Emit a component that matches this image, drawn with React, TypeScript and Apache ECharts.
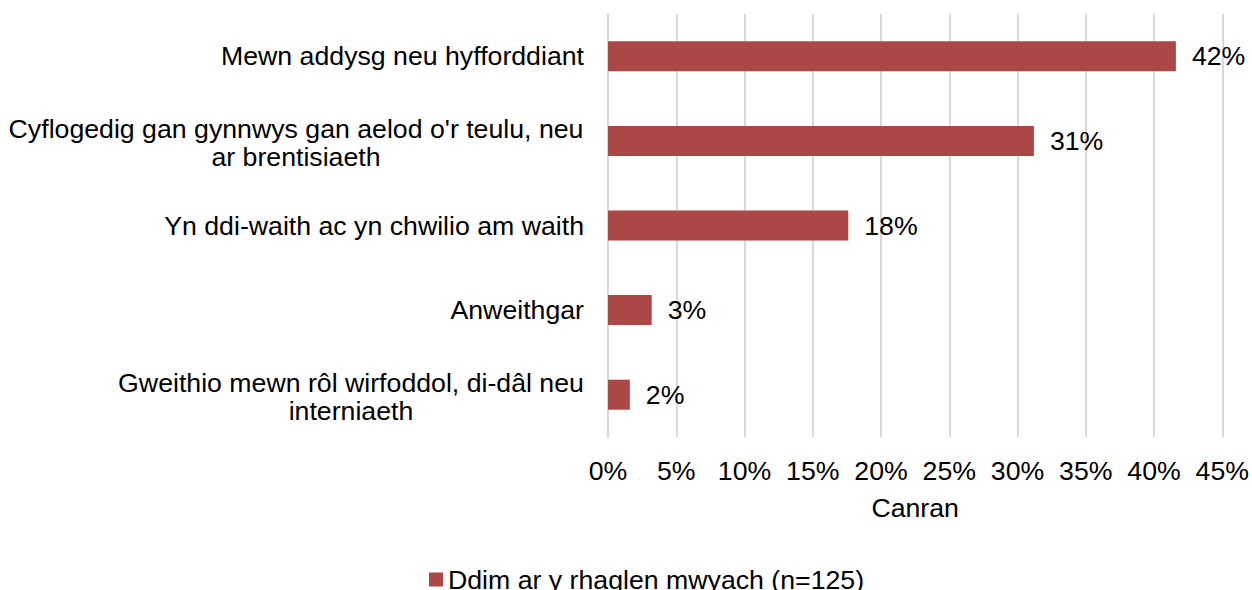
import React, { useEffect, useRef } from "react";
import * as echarts from "echarts";

const categories = [
  "Mewn addysg neu hyfforddiant",
  "Cyflogedig gan gynnwys gan aelod o'r teulu, neu\nar brentisiaeth",
  "Yn ddi-waith ac yn chwilio am waith",
  "Anweithgar",
  "Gweithio mewn rôl wirfoddol, di-dâl neu\ninterniaeth",
];
const values = [41.6, 31.2, 17.6, 3.2, 1.6];
const seriesName = "Ddim ar y rhaglen mwyach (n=125)";
const axisName = "Canran";

const FONT = "'Liberation Sans', Arial, sans-serif";
const FS = 26.7;

export default function App() {
  const ref = useRef<HTMLDivElement>(null);
  useEffect(() => {
    if (!ref.current) return;
    const chart = echarts.init(ref.current, null, { renderer: "svg" });
    chart.setOption({
      animation: false,
      textStyle: { fontFamily: FONT, color: "#000" },
      grid: { left: 608, right: 28, top: 14, bottom: 153, containLabel: false },
      xAxis: {
        type: "value",
        min: 0,
        max: 45,
        interval: 5,
        name: axisName,
        nameLocation: "middle",
        nameGap: 57,
        nameTextStyle: { fontSize: FS, color: "#000", fontFamily: FONT },
        axisLine: { show: false },
        axisTick: { show: false },
        axisLabel: {
          formatter: (v: number) => v + "%",
          fontSize: FS,
          color: "#000",
          fontFamily: FONT,
          margin: 20,
        },
        splitLine: { show: true, lineStyle: { color: "#d9d9d9", width: 2 } },
      },
      yAxis: {
        type: "category",
        inverse: true,
        data: categories,
        axisLine: { show: true, lineStyle: { color: "#d9d9d9", width: 2 } },
        axisTick: { show: false },
        axisLabel: {
          fontSize: FS,
          color: "#000",
          fontFamily: FONT,
          margin: 24,
          formatter: (v: string) => {
            const lines = v.split("\n");
            if (lines.length === 1) return v;
            const style = lines[0].length > 42 ? "w" : "v";
            return lines.map((l) => `{${style}|${l}}`).join("\n");
          },
          rich: {
            w: { width: 576, align: "center", fontSize: FS, lineHeight: 28, fontFamily: FONT, color: "#000", padding: [4, 0, 0, 0] },
            v: { width: 466, align: "center", fontSize: FS, lineHeight: 28, fontFamily: FONT, color: "#000", padding: [4, 0, 0, 0] },
          },
        },
      },
      legend: {
        left: 424,
        top: 561,
        itemWidth: 14,
        itemHeight: 14,
        icon: "rect",
        textStyle: { fontSize: FS, color: "#000", fontFamily: FONT },
        data: [seriesName],
      },
      series: [
        {
          name: seriesName,
          type: "bar",
          data: values,
          barWidth: 30,
          itemStyle: { color: "#ab4745" },
          label: {
            show: true,
            position: "right",
            distance: 16,
            formatter: (p: any) => Math.round(p.value) + "%",
            fontSize: FS,
            color: "#000",
            fontFamily: FONT,
          },
        },
      ],
    });
    return () => chart.dispose();
  }, []);
  return <div ref={ref} style={{ width: 1252, height: 590, position: "absolute", left: 0, top: 0 }} />;
}
